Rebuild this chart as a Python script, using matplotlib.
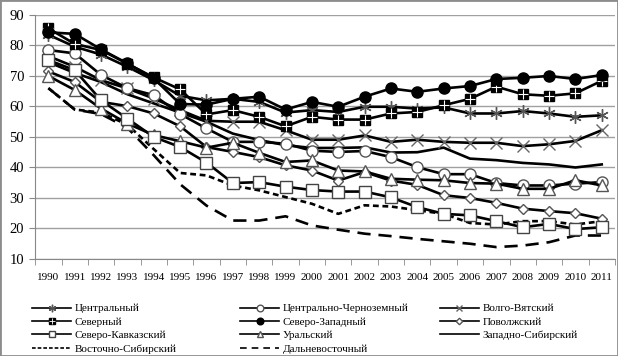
import matplotlib.pyplot as plt
from matplotlib.lines import Line2D
from matplotlib.patches import Rectangle
from matplotlib.legend_handler import HandlerTuple

plt.rcParams['font.family'] = ['Liberation Serif', 'DejaVu Serif']

years = [str(y) for y in range(1990, 2012)]

# values, one list per region
central = [83.5, 79.6, 77.0, 73.0, 68.6, 63.5, 62.0, 62.5, 61.5, 58.0, 58.8, 58.2,
           59.9, 59.9, 59.3, 59.7, 57.7, 57.7, 58.5, 57.7, 56.6, 57.1]
cchern = [78.5, 77.4, 70.3, 66.0, 63.7, 57.5, 52.8, 48.4, 48.4, 47.8, 45.5, 45.1,
          45.4, 43.4, 40.1, 37.8, 37.8, 34.9, 34.1, 34.1, 34.7, 35.2]
volgo = [76.5, 73.0, 68.6, 65.9, 62.6, 58.8, 55.3, 55.0, 55.0, 52.2, 49.1, 49.1,
         50.5, 48.4, 49.1, 48.4, 48.1, 48.1, 47.0, 47.6, 48.7, 52.2]
north = [85.6, 80.5, 78.5, 74.0, 69.5, 65.6, 57.4, 58.8, 56.6, 53.5, 56.6, 55.7,
         55.7, 57.7, 58.2, 60.4, 62.5, 66.5, 64.0, 63.5, 64.3, 68.4]
nwest = [84.3, 83.8, 78.7, 74.1, 69.2, 60.8, 60.6, 62.5, 63.2, 59.0, 61.5, 59.9,
         63.2, 65.9, 64.8, 65.9, 66.7, 69.0, 69.4, 70.0, 69.0, 70.3]
volga = [71.5, 68.0, 61.5, 60.1, 57.7, 53.5, 46.7, 45.1, 43.4, 40.7, 39.0, 35.7,
         38.5, 35.7, 34.3, 30.9, 30.0, 28.4, 26.5, 25.7, 25.0, 23.2]
ncauc = [75.2, 71.9, 62.0, 56.0, 50.0, 46.7, 41.6, 34.9, 35.2, 33.7, 32.6, 32.1,
         32.1, 30.2, 27.0, 24.8, 24.3, 22.4, 20.4, 21.5, 19.8, 20.4]
ural = [70.0, 65.4, 59.3, 54.4, 50.6, 48.6, 46.5, 48.1, 44.8, 41.8, 42.3, 39.0,
        38.7, 36.3, 36.0, 35.8, 34.9, 34.7, 33.0, 33.0, 35.8, 34.1]
wsib = [74.5, 71.0, 68.0, 64.0, 61.0, 58.0, 55.0, 51.1, 49.0, 47.3, 46.4, 46.4,
        46.6, 44.9, 45.0, 46.5, 42.9, 42.4, 41.5, 41.0, 40.0, 41.0]
esib = [66.0, 59.0, 58.0, 54.0, 46.0, 38.2, 37.4, 34.1, 32.5, 30.3, 28.1, 24.8,
        27.6, 27.2, 26.0, 24.8, 21.8, 21.3, 22.4, 22.4, 21.3, 22.4]
feast = [66.0, 59.0, 57.5, 53.0, 44.0, 34.5, 27.5, 22.6, 22.6, 24.0, 21.0, 19.6,
         18.3, 17.5, 16.6, 15.8, 15.0, 13.9, 14.4, 15.5, 17.7, 17.7]

x = list(range(len(years)))
lw = 1.9

fig = plt.figure(figsize=(6.18, 3.56), dpi=100)
ax = fig.add_axes([0.057, 0.2725, 0.938, 0.6855])

# style of each series: marker, size, face colour, edge colour
styles = {
    'central': dict(marker=(6, 2, 0), ms=9, mec='#555555', mew=1),
    'volgo': dict(marker='x', ms=8, mec='#666666', mew=1),
    'cchern': dict(marker='o', ms=8, mfc='white', mec='#555555', mew=1),
    'volga': dict(marker='D', ms=5.5, mfc='white', mec='#555555', mew=1),
    'ural': dict(marker='^', ms=8, mfc='white', mec='#555555', mew=1),
    'ncauc': dict(marker='s', ms=8, mfc='white', mec='#444444', mew=1),
    'north': dict(marker='s', ms=7.5, mfc='black', mec='black'),
    'nwest': dict(marker='o', ms=8, mfc='black', mec='black'),
}

# lines without markers first, then marked series on top
ax.plot(x, wsib, color='black', lw=lw)
ax.plot(x, esib, color='black', lw=lw, dashes=(2.2, 1.4))
ax.plot(x, feast, color='black', lw=lw, dashes=(5, 3))
ax.plot(x, central, color='black', lw=lw, **styles['central'])
ax.plot(x, volgo, color='black', lw=lw, **styles['volgo'])
ax.plot(x, cchern, color='black', lw=lw, **styles['cchern'])
ax.plot(x, volga, color='black', lw=lw, **styles['volga'])
ax.plot(x, ural, color='black', lw=lw, **styles['ural'])
ax.plot(x, ncauc, color='black', lw=lw, **styles['ncauc'])
ax.plot(x, north, color='black', lw=lw, **styles['north'])
ax.plot(x, north, ls='none', marker='+', ms=7.5, mec='white', mew=0.8)
ax.plot(x, nwest, color='black', lw=lw, **styles['nwest'])

# axes
ax.set_xlim(-0.5, len(years) - 0.5)
ax.set_ylim(10, 90)
ax.set_yticks(range(10, 91, 10))
ax.set_xticks(x)
ax.set_xticklabels(years, fontsize=8)
ax.set_xticks([i - 0.5 for i in range(len(years) + 1)], minor=True)
ax.tick_params(axis='x', which='major', length=0, pad=10)
ax.tick_params(axis='x', which='minor', length=4, color='#888888', direction='out')
ax.tick_params(axis='y', length=4, color='#888888', labelsize=10.5, pad=4)
ax.grid(axis='y', color='#a0a0a0', lw=1)
ax.set_axisbelow(True)
for s in ['top', 'right']:
    ax.spines[s].set_visible(False)
for s in ['left', 'bottom']:
    ax.spines[s].set_color('#888888')


# legend samples are thinner with smaller markers
def proxy(key=None, **kw):
    st = dict(styles.get(key, {}))
    if 'ms' in st:
        st['ms'] = st['ms'] * 0.6
    st.update(kw)
    return Line2D([], [], color='black', lw=1.2, **st)


h_north = (proxy('north'), Line2D([], [], ls='none', marker='+', ms=4.5, mec='white', mew=0.6))

kw = dict(frameon=False, fontsize=8, handlelength=3.5, handletextpad=0.3,
          labelspacing=0.33, borderpad=0, borderaxespad=0,
          numpoints=1, loc='upper left',
          handler_map={tuple: HandlerTuple(ndivide=1)})
fig.legend([proxy('central'), h_north, proxy('ncauc'), proxy(dashes=(2.2, 1.2))],
           ['Центральный', 'Северный', 'Северо-Кавказский', 'Восточно-Сибирский'],
           bbox_to_anchor=(0.052, 0.147), **kw)
fig.legend([proxy('cchern'), proxy('nwest'), proxy('ural'), proxy(dashes=(4, 3))],
           ['Центрально-Черноземный', 'Северо-Западный', 'Уральский', 'Дальневосточный'],
           bbox_to_anchor=(0.389, 0.147), **kw)
fig.legend([proxy('volgo'), proxy('volga'), proxy()],
           ['Волго-Вятский', 'Поволжский', 'Западно-Сибирский'],
           bbox_to_anchor=(0.712, 0.147), **kw)

# gray frame around the chart area
fig.patches.append(Rectangle((0, 0), 1, 1, transform=fig.transFigure, fill=False,
                             edgecolor='#8c8c8c', lw=2))

fig.savefig('out.png', dpi=100)
